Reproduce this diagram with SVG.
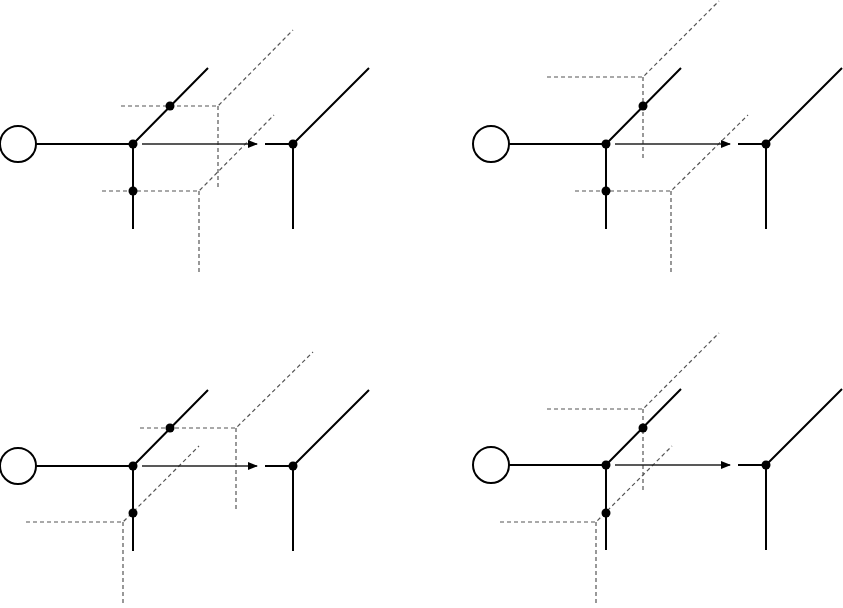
<svg xmlns="http://www.w3.org/2000/svg" width="843" height="608" viewBox="0 0 843 608">
<style>
.s{stroke:#000;stroke-width:2;fill:none}
.d{stroke:#555;stroke-width:1.2;stroke-dasharray:4 3;fill:none}
.a{stroke:#222;stroke-width:1.3;fill:none;marker-end:url(#ah)}
.c{fill:#fff;stroke:#000;stroke-width:2}
</style>
<defs>
<marker id="ah" markerWidth="10" markerHeight="8" refX="9" refY="4" orient="auto" markerUnits="userSpaceOnUse"><path d="M0,0 L10,4 L0,8 Z" fill="#000"/></marker>
<g id="panel">
<circle class="c" cx="18" cy="0" r="18"/>
<path class="s" d="M36,0 H133 M133,0 L208,-76 M133,0 V85 M265,0 H293 M293,0 L369,-76 M293,0 V85"/>
<path class="a" d="M142,0 H257"/>
<circle cx="133" cy="0" r="4.5"/>
<circle cx="293" cy="0" r="4.5"/>
</g>
</defs>
<g id="connectors">
<path class="d" d="M121,106 H218 L293,30 M218,106 V187 M102,191 H199 L274,115 M199,191 V272"/>
<path class="d" d="M547,77 H643 L719,1 M643,77 V159 M575,191 H671 L748,115 M671,191 V272"/>
<path class="d" d="M140,428 H236 L313,352 M236,428 V510 M26,522 H123 L199,446 M123,522 V604"/>
<path class="d" d="M547,409 H643 L719,333 M643,409 V491 M500,522 H596 L672,446 M596,522 V604"/>
</g>
<g id="p1"><use href="#panel" x="0" y="144"/><circle cx="170" cy="106" r="4.5"/><circle cx="133" cy="191" r="4.5"/></g>
<g id="p2"><use href="#panel" x="473" y="144"/><circle cx="643" cy="106" r="4.5"/><circle cx="606" cy="191" r="4.5"/></g>
<g id="p3"><use href="#panel" x="0" y="466"/><circle cx="170" cy="428" r="4.5"/><circle cx="133" cy="513" r="4.5"/></g>
<g id="p4"><use href="#panel" x="473" y="465"/><circle cx="643" cy="428" r="4.5"/><circle cx="606" cy="513" r="4.5"/></g>
</svg>
